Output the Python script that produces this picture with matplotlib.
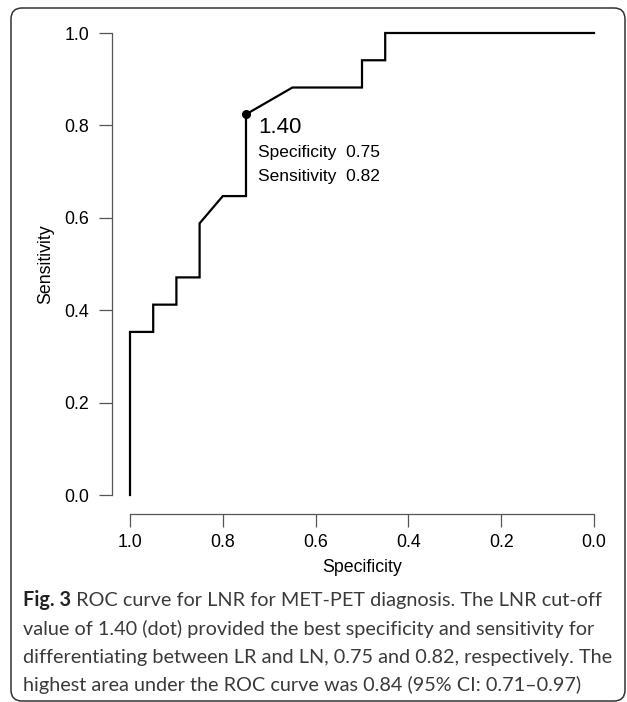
import matplotlib
matplotlib.use("Agg")
import matplotlib.pyplot as plt
from matplotlib.patches import FancyBboxPatch
from matplotlib.transforms import IdentityTransform

# ---- data ----
specificity = [1.00, 1.00, 0.95, 0.95, 0.90, 0.90, 0.85, 0.85, 0.80, 0.75, 0.75,
               0.65, 0.50, 0.50, 0.45, 0.45, 0.00]
sensitivity = [0.000, 0.353, 0.353, 0.412, 0.412, 0.471, 0.471, 0.588, 0.647, 0.647,
               0.824, 0.882, 0.882, 0.941, 0.941, 1.000, 1.000]
best_spec = 0.75
best_sens = 0.824
best_label = "1.40"
best_lines = ["Specificity  0.75", "Sensitivity  0.82"]
tick_values = [0.0, 0.2, 0.4, 0.6, 0.8, 1.0]
tick_labels = ["0.0", "0.2", "0.4", "0.6", "0.8", "1.0"]
caption_bold = "Fig. 3"
caption_lines = [
    " ROC curve for LNR for MET-PET diagnosis. The LNR cut-off",
    "value of 1.40 (dot) provided the best specificity and sensitivity for",
    "differentiating between LR and LN, 0.75 and 0.82, respectively. The",
    "highest area under the ROC curve was 0.84 (95% CI: 0.71\u20130.97)",
]

W, H, DPI = 627, 702, 100
plt.rcParams['font.family'] = ['Liberation Sans', 'DejaVu Sans']
fig = plt.figure(figsize=(W / DPI, H / DPI), dpi=DPI)

# axes placed so data 1.0..0.0 spans pixels 130..594, sens 0..1 spans 495..33
ax_l, ax_r, ax_t, ax_b = 130, 594, 33, 495
ax = fig.add_axes([ax_l / W, 1 - ax_b / H, (ax_r - ax_l) / W, (ax_b - ax_t) / H])
ax.set_xlim(1.0, 0.0)
ax.set_ylim(0.0, 1.0)
ax.patch.set_visible(False)

ax.plot(specificity, sensitivity, color='black', lw=1.6, clip_on=False,
        solid_joinstyle='miter')
ax.plot([best_spec], [best_sens], 'o', color='black', ms=5.5, clip_on=False)

ax.annotate(best_label, xy=(best_spec, best_sens), xytext=(12, -13),
            textcoords='offset pixels', fontsize=16, ha='left', va='center')
ax.annotate(best_lines[0], xy=(best_spec, best_sens), xytext=(12, -38),
            textcoords='offset pixels', fontsize=12.5, ha='left', va='center')
ax.annotate(best_lines[1], xy=(best_spec, best_sens), xytext=(12, -62),
            textcoords='offset pixels', fontsize=12.5, ha='left', va='center')

for s in ['top', 'right']:
    ax.spines[s].set_visible(False)
spine_col = '#555555'
ax.spines['left'].set_position(('outward', 18 * 0.72))
ax.spines['bottom'].set_position(('outward', 19 * 0.72))
for s in ['left', 'bottom']:
    ax.spines[s].set_bounds(0, 1)
    ax.spines[s].set_color(spine_col)
    ax.spines[s].set_linewidth(0.9)
ax.set_xticks(tick_values)
ax.set_xticklabels(tick_labels)
ax.set_yticks(tick_values)
ax.set_yticklabels(tick_labels)
ax.tick_params(axis='both', direction='out', length=9.4, width=0.9,
               color=spine_col, labelsize=12.8, labelcolor='black')
ax.tick_params(axis='y', pad=7)
ax.tick_params(axis='x', pad=5)

fig.text(362 / W, 1 - 567 / H, "Specificity", fontsize=12.8, ha='center', va='center')
fig.text(46 / W, 1 - 264 / H, "Sensitivity", fontsize=12.8, ha='center', va='center',
         rotation=90)

# caption
cap_font = ['Lato', 'DejaVu Sans']
cap_size = 14.3
x0 = 23
base0 = 606
spacing = 28.5
fig.canvas.draw()
r = fig.canvas.get_renderer()
tb = fig.text(x0 / W, 1 - base0 / H, caption_bold, fontsize=cap_size, family=cap_font,
              weight='bold', ha='left', va='baseline', color='#222222')
ext = tb.get_window_extent(renderer=r)
fig.text(ext.x1 / W, 1 - base0 / H, caption_lines[0], fontsize=cap_size, family=cap_font,
         ha='left', va='baseline', color='#3a3a3a')
for i, line in enumerate(caption_lines[1:], start=1):
    fig.text(x0 / W, 1 - (base0 + i * spacing) / H, line, fontsize=cap_size,
             family=cap_font, ha='left', va='baseline', color='#3a3a3a')

# rounded border
box = FancyBboxPatch((11, 1), 614, H - 9, boxstyle="round,pad=0,rounding_size=11",
                     transform=IdentityTransform(), fill=False, ec='#333333', lw=1.1)
fig.add_artist(box)

fig.savefig("out.png", dpi=DPI)
